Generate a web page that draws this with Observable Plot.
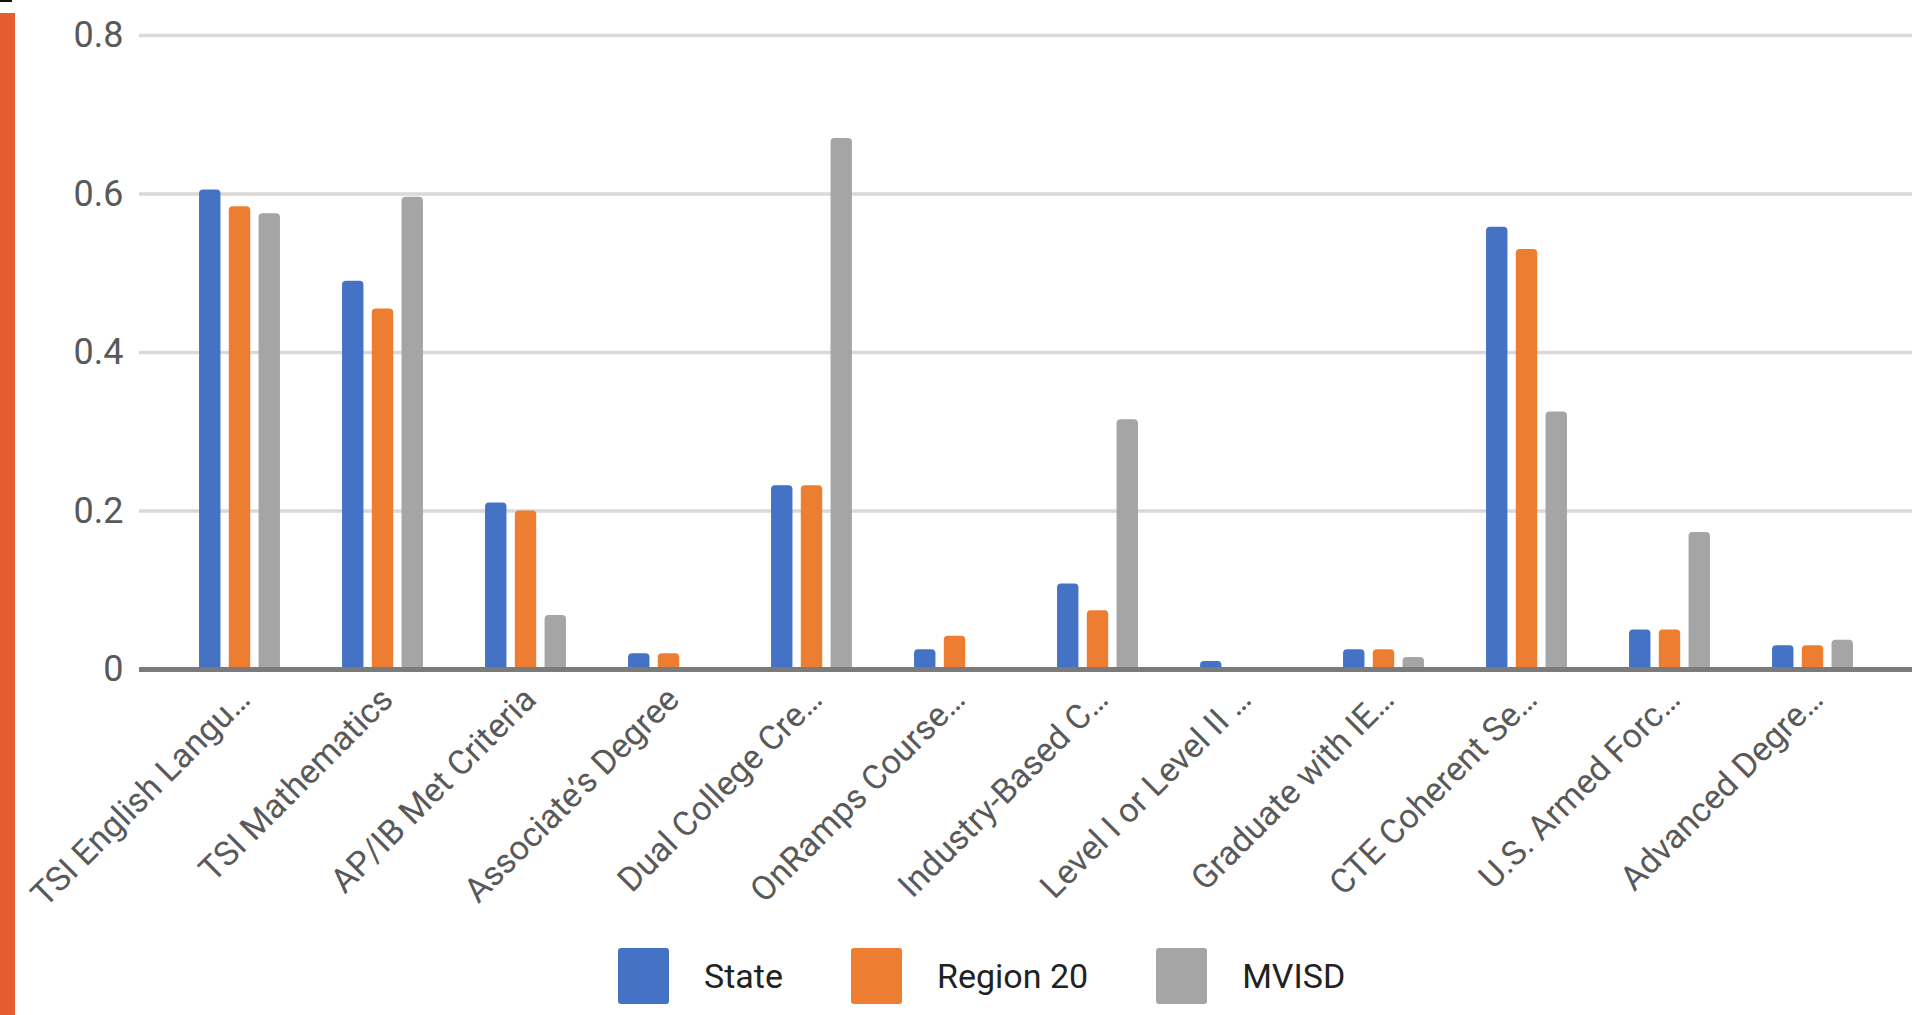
<!DOCTYPE html>
<html><head><meta charset="utf-8">
<script src="https://cdn.jsdelivr.net/npm/d3@7"></script>
<script src="https://cdn.jsdelivr.net/npm/@observablehq/plot@0.6"></script>
<style>
html,body{margin:0;padding:0;background:#fff;overflow:hidden;width:1921px;height:1015px}
#wrap{position:relative;width:1921px;height:1015px;font-family:Roboto,sans-serif}
#chart{position:absolute;left:0;top:0}
#leftbar{position:absolute;left:0;top:13px;width:15px;height:1002px;background:#e35d2f}
#corner{position:absolute;left:0;top:0;width:12px;height:2px;background:#111}
#legend{position:absolute;left:618px;top:948px;display:flex;align-items:center;font-size:34px;color:#222;height:56px}
.sw{width:51px;height:56px;border-radius:3px;margin-right:35px}
.lab{margin-right:68px;line-height:56px}
</style></head><body><div id="wrap"><div id="chart"></div><div id="leftbar"></div><div id="corner"></div><div id="legend"></div></div>
<script>
const categories = ["TSI English Langu…","TSI Mathematics","AP/IB Met Criteria","Associate’s Degree","Dual College Cre…","OnRamps Course…","Industry-Based C…","Level I or Level II …","Graduate with IE…","CTE Coherent Se…","U.S. Armed Forc…","Advanced Degre…"];
const seriesNames = ["State","Region 20","MVISD"];
const stateValues    = [0.605, 0.49, 0.21, 0.02, 0.232, 0.025, 0.108, 0.01, 0.025, 0.558, 0.05, 0.03];
const region20Values = [0.584, 0.455, 0.2, 0.02, 0.232, 0.042, 0.074, 0, 0.025, 0.53, 0.05, 0.03];
const mvisdValues    = [0.575, 0.596, 0.068, 0, 0.67, 0, 0.315, 0, 0.015, 0.325, 0.173, 0.037];
const yTicks = [0, 0.2, 0.4, 0.6, 0.8];
const colors = ["#4472C4", "#ED7D31", "#A5A5A5"];

const allValues = [stateValues, region20Values, mvisdValues];
const rows = [];
seriesNames.forEach((s, i) => categories.forEach((c, j) => rows.push({category: c, series: s, value: allValues[i][j]})));

const W = 1921, H = 940, mL = 139, mR = 9, mT = 35, mB = 271;
const po = 0.195, n = categories.length;
const step = (W - mL - mR) / (n + 2 * po);
const barW = 21.5, pitch = 29.75;
const inset = (step - barW) / 2;
const offsets = [-pitch, 0, pitch];

const marks = [Plot.ruleY(yTicks, {stroke: "#d9d9d9", strokeWidth: 3.5})];
seriesNames.forEach((s, i) => {
  const d = rows.filter(r => r.series === s && r.value > 0);
  marks.push(Plot.barY(d, {x: "category", y: "value", fill: colors[i], insetLeft: inset, insetRight: inset, insetBottom: -2.5, dx: offsets[i], rx: 4}));
});
marks.push(Plot.ruleY([0], {stroke: "#7b7b7b", strokeWidth: 5}));
marks.push(Plot.text(categories, {x: d => d, text: d => d, frameAnchor: "bottom", rotate: -45, textAnchor: "end", dx: 12, dy: 32, fill: "#595959", fontSize: 34}));

const chart = Plot.plot({
  width: W, height: H,
  marginLeft: mL, marginRight: mR, marginTop: mT, marginBottom: mB,
  style: {fontSize: "36px", fontFamily: "Roboto, sans-serif", color: "#595959", background: "transparent"},
  x: {type: "band", domain: categories, paddingInner: 0, paddingOuter: po, align: 0.5, axis: null},
  y: {domain: [0, 0.8], ticks: yTicks, tickFormat: "~g", tickSize: 0, tickPadding: 16, label: null},
  marks
});
document.getElementById("chart").appendChild(chart);

const legend = document.getElementById("legend");
seriesNames.forEach((s, i) => {
  const sw = document.createElement("div"); sw.className = "sw"; sw.style.background = colors[i];
  const lb = document.createElement("div"); lb.className = "lab"; lb.textContent = s;
  legend.appendChild(sw); legend.appendChild(lb);
});
</script></body></html>
